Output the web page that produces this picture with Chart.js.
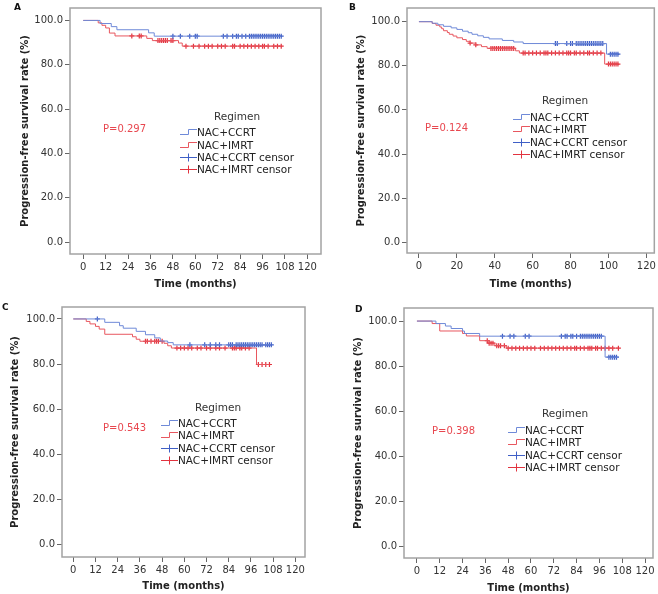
<!DOCTYPE html>
<html>
<head>
<meta charset="utf-8">
<script src="https://cdn.jsdelivr.net/npm/chart.js@4.4.1/dist/chart.umd.min.js"></script>
<style>
  body { margin: 0; width: 658px; height: 594px; background: #fff; position: relative; overflow: hidden;
         font-family: "DejaVu Sans", sans-serif; }
  .panel { position: absolute; }
  .txt { position: absolute; white-space: nowrap; line-height: 12px; height: 12px; }
  .letter { font-weight: bold; font-size: 9px; color: #111; }
  .pval { font-size: 10px; color: #e8474f; }
  .legtitle { font-size: 10.5px; color: #333; transform: translateX(-50%); }
  .legrow { position: absolute; display: flex; align-items: center; height: 12px; font-size: 10.5px; color: #222; white-space: nowrap; }
  .legrow svg { display: block; }
</style>
</head>
<body>
<script>
// --- datos ---
const yTicks = [0, 20, 40, 60, 80, 100];
const monthTicks12 = [0, 12, 24, 36, 48, 60, 72, 84, 96, 108, 120];
const monthTicks20 = [0, 20, 40, 60, 80, 100, 120];
const seriesNames = ['NAC+CCRT', 'NAC+IMRT', 'NAC+CCRT censor', 'NAC+IMRT censor'];
const panelLetters = ['A', 'B', 'C', 'D'];
const pValues = ['P=0.297', 'P=0.124', 'P=0.543', 'P=0.398'];

// Panel A
const aCcrtTime = [0, 9, 15, 18, 35, 38, 106];
const aCcrtPfs = [100, 98.6, 97.2, 95.8, 94.4, 92.9, 92.9];
const aCcrtCensor = [48, 52, 57, 60, 61, 75, 77, 80, 82, 83, 85, 87, 89, 90, 91, 92, 93, 94, 95, 96, 97, 98, 99, 100, 101, 102, 103, 104, 105, 106];
const aImrtTime = [0, 8, 10, 12, 14, 17, 34, 37, 51, 53, 106];
const aImrtPfs = [100, 98.9, 97.8, 96.6, 94.3, 93.0, 91.9, 90.9, 89.8, 88.4, 88.4];
const aImrtCensor = [26, 30, 31, 40, 41, 42, 43, 44, 45, 47, 48, 55, 59, 62, 65, 67, 69, 72, 74, 76, 80, 81, 84, 86, 88, 90, 92, 94, 96, 97, 99, 102, 104, 106];

// Panel B
const bCcrtTime = [0, 7, 10, 13, 17, 20, 23, 26, 28, 31, 34, 37, 44, 50, 55, 99, 105];
const bCcrtPfs = [100, 99.3, 98.6, 97.9, 97.2, 96.5, 95.7, 95.0, 94.3, 93.6, 92.9, 92.2, 91.5, 90.8, 90.1, 85.3, 85.3];
const bCcrtCensor = [72, 73, 78, 80, 81, 83, 84, 85, 86, 87, 88, 89, 90, 91, 92, 93, 94, 95, 96, 97, 101, 102, 103, 104, 105];
const bImrtTime = [0, 7, 9, 11, 12, 13, 15, 16, 18, 20, 23, 25, 27, 30, 33, 36, 51, 53, 98, 105];
const bImrtPfs = [100, 99.2, 98.4, 97.6, 96.8, 95.9, 95.1, 94.3, 93.5, 92.7, 91.9, 91.1, 90.3, 89.5, 88.7, 87.9, 86.8, 85.8, 80.8, 80.8];
const bImrtCensor = [27, 30, 38, 39, 40, 41, 42, 43, 44, 45, 46, 47, 48, 49, 50, 55, 56, 58, 60, 62, 64, 66, 67, 68, 70, 72, 74, 76, 78, 79, 80, 82, 83, 85, 87, 89, 90, 92, 94, 96, 100, 101, 102, 103, 104, 105];

// Panel C
const cCcrtTime = [0, 17, 25, 27, 34, 39, 44, 47, 51, 54, 107];
const cCcrtPfs = [100, 98.5, 97.0, 95.9, 94.5, 93.0, 91.6, 90.2, 89.5, 88.5, 88.5];
const cCcrtCensor = [13, 63, 71, 74, 77, 79, 84, 85, 86, 88, 89, 90, 91, 92, 93, 94, 95, 96, 97, 98, 99, 100, 101, 102, 104, 105, 106, 107];
const cImrtTime = [0, 7, 9, 12, 14, 17, 32, 34, 36, 49, 51, 53, 99, 106];
const cImrtPfs = [100, 98.9, 97.8, 96.7, 95.5, 93.2, 92.1, 91.0, 90.1, 89.2, 88.1, 87.1, 79.8, 79.8];
const cImrtCensor = [39, 40, 42, 44, 45, 46, 48, 56, 58, 60, 62, 64, 67, 69, 72, 74, 77, 79, 82, 86, 87, 88, 90, 91, 93, 95, 100, 102, 104, 106];

// Panel D
const dCcrtTime = [0, 10, 15, 18, 24, 25, 33, 99, 106];
const dCcrtPfs = [100, 98.9, 97.8, 96.7, 95.6, 94.5, 93.3, 84.0, 84.0];
const dCcrtCensor = [45, 49, 51, 57, 59, 76, 78, 79, 81, 82, 84, 86, 87, 88, 89, 90, 91, 92, 93, 94, 95, 96, 97, 101, 102, 103, 104, 105];
const dImrtTime = [0, 8, 12, 24, 26, 33, 38, 41, 47, 106];
const dImrtPfs = [100, 98.9, 95.6, 94.5, 93.4, 91.3, 90.2, 89.1, 88.0, 88.0];
const dImrtCensor = [37, 38, 39, 40, 42, 43, 44, 46, 48, 50, 52, 54, 56, 58, 60, 62, 65, 67, 69, 71, 73, 75, 77, 79, 81, 83, 84, 86, 88, 90, 91, 92, 94, 95, 97, 99, 101, 103, 106];

// colores
const blueLine = '#6f8ad8', blueMark = '#3f5fc6';
const redLine = '#e8575f', redMark = '#e2333f';
const fontFam = '"DejaVu Sans", sans-serif';

// posiciones: caja del panel [x, y, w, h] y marco del grafico [izq, arriba, der, abajo]
const panels = [
  { box: [0, 0, 329, 297], frame: [70, 4, 321, 254], xMin: -7.1, xMax: 127.3, yMin: -5.3, yMax: 105.6, xTicks: monthTicks12,
    yTitlePad: 19, xTitlePad: 7, letter: [14, 1], pval: [103, 129],
    leg: { tx: 237, ty: 116, gx: 180, rows: [132, 144.5, 157, 169] },
    ccrt: [aCcrtTime, aCcrtPfs, aCcrtCensor], imrt: [aImrtTime, aImrtPfs, aImrtCensor] },
  { box: [329, 0, 329, 297], frame: [407, 4, 655, 253], xMin: -6.3, xMax: 124.2, yMin: -4.8, yMax: 106.2, xTicks: monthTicks20,
    yTitlePad: 26, xTitlePad: 7, letter: [349, 1], pval: [425, 128],
    leg: { tx: 565, ty: 100, gx: 513, rows: [117, 129, 142, 154] },
    ccrt: [bCcrtTime, bCcrtPfs, bCcrtCensor], imrt: [bImrtTime, bImrtPfs, bImrtCensor] },
  { box: [0, 297, 329, 297], frame: [62, 307, 305, 557], xMin: -6.1, xMax: 125.2, yMin: -5.6, yMax: 105.3, xTicks: monthTicks12,
    yTitlePad: 9, xTitlePad: 2, letter: [2, 301], pval: [103, 428],
    leg: { tx: 218, ty: 407, gx: 161, rows: [423, 435, 448, 459.5] },
    ccrt: [cCcrtTime, cCcrtPfs, cCcrtCensor], imrt: [cImrtTime, cImrtPfs, cImrtCensor] },
  { box: [329, 297, 329, 297], frame: [404, 308, 653, 558], xMin: -6.8, xMax: 124.2, yMin: -5.1, yMax: 105.8, xTicks: monthTicks12,
    yTitlePad: 23, xTitlePad: 0, letter: [355, 303], pval: [432, 431],
    leg: { tx: 565, ty: 413, gx: 508, rows: [429.5, 442, 454.5, 467] },
    ccrt: [dCcrtTime, dCcrtPfs, dCcrtCensor], imrt: [dImrtTime, dImrtPfs, dImrtCensor] }
];

// valor de la curva KM en un tiempo dado (para ubicar las marcas de censura)
function valorEscalon(tiempos, valores, t) {
  let v = valores[0];
  for (let i = 0; i < tiempos.length; i++) if (tiempos[i] <= t) v = valores[i];
  return v;
}

const marcoPlugin = {
  id: 'marco',
  afterDraw(chart) {
    const { ctx, chartArea: a } = chart;
    ctx.save();
    ctx.strokeStyle = '#a3a3a3';
    ctx.lineWidth = 1.5;
    ctx.strokeRect(a.left, a.top, a.right - a.left, a.bottom - a.top);
    ctx.restore();
  }
};

function addText(cls, text, x, y) {
  const d = document.createElement('div');
  d.className = 'txt ' + cls;
  d.textContent = text;
  d.style.left = x + 'px';
  d.style.top = (y - 6) + 'px';
  document.body.appendChild(d);
}

function addLegendRow(x, y, glyph, color, text) {
  const row = document.createElement('div');
  row.className = 'legrow';
  row.style.left = x + 'px';
  row.style.top = (y - 6) + 'px';
  const path = glyph === 'step' ? 'M0 8.5 H8.5 V3.5 H17' : 'M0 6.5 H17 M8.5 2.5 V10.5';
  row.innerHTML = `<svg width="17" height="12"><path d="${path}" fill="none" stroke="${color}" stroke-width="1"/></svg><span>${text}</span>`;
  document.body.appendChild(row);
}

panels.forEach((p, idx) => {
  const [bx, by, bw, bh] = p.box;
  const [fl, ft, fr, fb] = p.frame;

  const wrap = document.createElement('div');
  wrap.className = 'panel';
  wrap.style.left = bx + 'px';
  wrap.style.top = by + 'px';
  const canvas = document.createElement('canvas');
  canvas.width = bw;
  canvas.height = bh;
  wrap.appendChild(canvas);
  document.body.appendChild(wrap);

  const [ct, cv, cc] = p.ccrt;
  const [it, iv, ic] = p.imrt;

  new Chart(canvas, {
    type: 'scatter',
    data: {
      datasets: [
        { label: seriesNames[0], data: ct.map((t, i) => ({ x: t, y: cv[i] })), showLine: true, stepped: true,
          borderColor: blueLine, borderWidth: 1, pointRadius: 0 },
        { label: seriesNames[1], data: it.map((t, i) => ({ x: t, y: iv[i] })), showLine: true, stepped: true,
          borderColor: redLine, borderWidth: 1, pointRadius: 0 },
        { label: seriesNames[2], data: cc.map(t => ({ x: t, y: valorEscalon(ct, cv, t) })), showLine: false,
          pointStyle: 'cross', pointRadius: 2.5, borderColor: blueMark, borderWidth: 1.2 },
        { label: seriesNames[3], data: ic.map(t => ({ x: t, y: valorEscalon(it, iv, t) })), showLine: false,
          pointStyle: 'cross', pointRadius: 2.5, borderColor: redMark, borderWidth: 1.2 }
      ]
    },
    options: {
      responsive: false,
      animation: false,
      events: [],
      layout: { autoPadding: false, padding: { top: ft - by, right: bx + bw - fr, left: 0, bottom: 0 } },
      plugins: { legend: { display: false }, tooltip: { enabled: false } },
      scales: {
        x: {
          type: 'linear', min: p.xMin, max: p.xMax,
          afterBuildTicks: ax => { ax.ticks = p.xTicks.map(v => ({ value: v })); },
          afterFit: ax => { ax.height = by + bh - fb; },
          grid: { drawOnChartArea: false, drawTicks: true, tickLength: 5, color: '#666' },
          border: { display: false },
          ticks: { autoSkip: false, maxRotation: 0, padding: 2, color: '#333', font: { family: fontFam, size: 10 } },
          title: { display: true, text: 'Time (months)', color: '#222', padding: { top: 0, bottom: p.xTitlePad },
                   font: { family: fontFam, size: 10, weight: 'bold' } }
        },
        y: {
          type: 'linear', min: p.yMin, max: p.yMax,
          afterBuildTicks: ax => { ax.ticks = yTicks.map(v => ({ value: v })); },
          afterFit: ax => { ax.width = fl - bx; },
          grid: { drawOnChartArea: false, drawTicks: true, tickLength: 5, color: '#666' },
          border: { display: false },
          ticks: { autoSkip: false, padding: 2, color: '#333', font: { family: fontFam, size: 10 },
                   callback: v => v.toFixed(1) },
          title: { display: true, text: 'Progression-free survival rate (%)', color: '#222',
                   padding: { top: p.yTitlePad, bottom: 0 }, font: { family: fontFam, size: 10, weight: 'bold' } }
        }
      }
    },
    plugins: [marcoPlugin]
  });

  addText('letter', panelLetters[idx], p.letter[0], p.letter[1] + 6);
  addText('pval', pValues[idx], p.pval[0], p.pval[1]);
  addText('legtitle', 'Regimen', p.leg.tx, p.leg.ty);
  addLegendRow(p.leg.gx, p.leg.rows[0], 'step', blueLine, seriesNames[0]);
  addLegendRow(p.leg.gx, p.leg.rows[1], 'step', redLine, seriesNames[1]);
  addLegendRow(p.leg.gx, p.leg.rows[2], 'cross', blueMark, seriesNames[2]);
  addLegendRow(p.leg.gx, p.leg.rows[3], 'cross', redMark, seriesNames[3]);
});
</script>
</body>
</html>
